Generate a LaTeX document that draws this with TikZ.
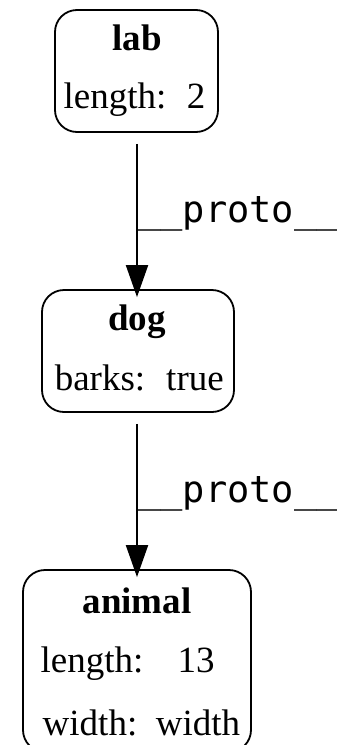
\documentclass[tikz,border=0pt]{standalone}
\usepackage{fontspec}
\setmainfont{Liberation Serif}
\newfontfamily\codefont{DejaVu Sans Mono}
\usetikzlibrary{arrows.meta}
\tikzset{
  objbox/.style={draw, line width=1.8pt, rounded corners=22pt, inner sep=0pt},
  txt/.style={inner sep=0pt, anchor=base, font=\fontsize{37}{44}\selectfont},
  ttl/.style={txt, font=\fontsize{37}{44}\selectfont\bfseries},
  protolink/.style={line width=2pt, -{Triangle[width=22pt,length=32pt]}},
  linklabel/.style={inner sep=0pt, anchor=base west, font=\fontsize{37}{44}\selectfont\codefont}
}
\begin{document}
\begin{tikzpicture}[x=1pt, y=-1pt]
  \useasboundingbox (0,0) rectangle (337,745);
  % object boxes
  \node[objbox, minimum width=163pt, minimum height=122pt] (lab) at (136.5,71) {};
  \node[objbox, minimum width=192pt, minimum height=122pt] (dog) at (138,351) {};
  \node[objbox, minimum width=228pt, minimum height=182pt] (animal) at (137,661) {};
  % lab
  \node[ttl] (labT) at (137,50) {lab};
  \node[txt] (labK) at (115,108) {length:};
  \node[txt] (labV) at (196,108) {2};
  % dog
  \node[ttl] (dogT) at (137,330) {dog};
  \node[txt] (dogK) at (100,390) {barks:};
  \node[txt] (dogV) at (195,390) {true};
  % animal
  \node[ttl] (animalT) at (137,613) {animal};
  \node[txt] (animalK1) at (92,672) {length:};
  \node[txt] (animalV1) at (196,672) {13};
  \node[txt] (animalK2) at (90,735) {width:};
  \node[txt] (animalV2) at (198,735) {width};
  % prototype links
  \draw[protolink] ([xshift=0.5pt]lab.south) ++(0,11) coordinate (l1s) -- ([yshift=-8pt]dog.north -| l1s) coordinate (l1e);
  \draw[protolink] (dog.south -| l1s) ++(0,11) coordinate (l2s) -- ([yshift=-8pt]animal.north -| l2s) coordinate (l2e);
  \node[linklabel] (p1) at (138,222) {\_\_proto\_\_};
  \node[linklabel] (p2) at (138,502) {\_\_proto\_\_};
\end{tikzpicture}
\end{document}
